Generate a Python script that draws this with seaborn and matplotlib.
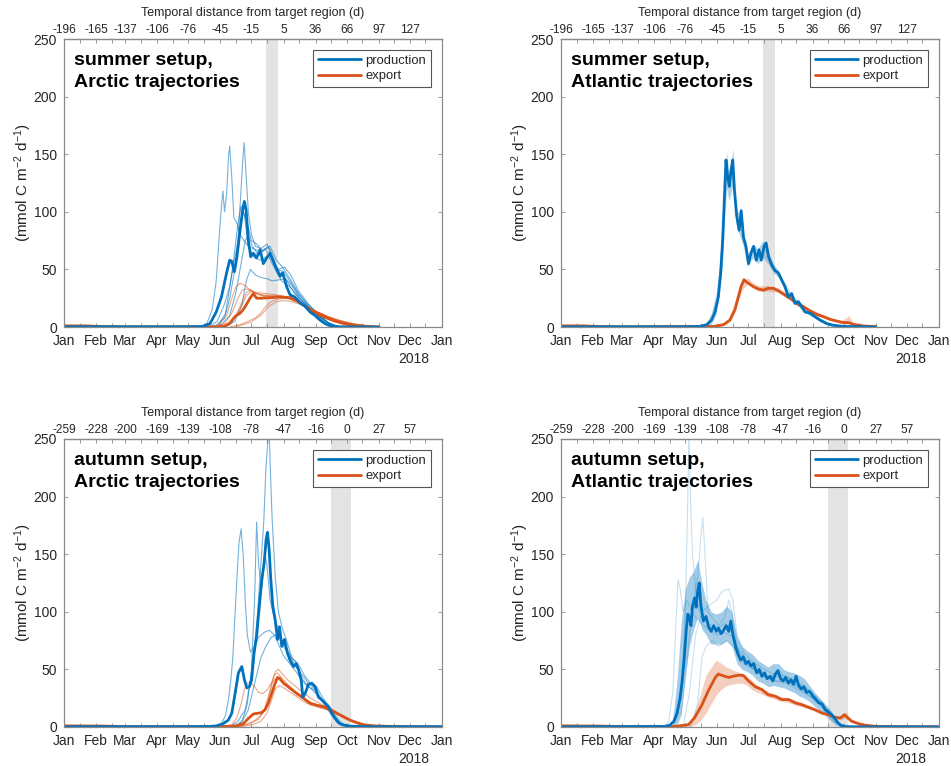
import numpy as np
import pandas as pd
import matplotlib
matplotlib.use("Agg")
import matplotlib.pyplot as plt
import seaborn as sns
from matplotlib.lines import Line2D

# ---------------------------------------------------------------- axes text
MONTHS = ["Jan", "Feb", "Mar", "Apr", "May", "Jun", "Jul", "Aug", "Sep",
          "Oct", "Nov", "Dec", "Jan"]
MONTH_START = [0, 31, 59, 90, 120, 151, 181, 212, 243, 273, 304, 334, 365]
YEAR_LABEL = "2018"
TOP_AXIS_LABEL = "Temporal distance from target region (d)"
Y_LABEL = "(mmol C m$^{-2}$ d$^{-1}$)"
SUMMER_TOP_LABELS = ["-196", "-165", "-137", "-106", "-76", "-45", "-15",
                     "5", "36", "66", "97", "127"]
AUTUMN_TOP_LABELS = ["-259", "-228", "-200", "-169", "-139", "-108", "-78",
                     "-47", "-16", "0", "27", "57"]
SUMMER_TARGET = (195.5, 206.8)   # day-of-year span of the target region
AUTUMN_TARGET = (258.0, 277.0)
SERIES_NAMES = ["production", "export"]

# ------------------------------------------- summer setup, Arctic trajectories
SUM_ARC_PROD = [(0, 0.3), (60, 0.2), (120, 0.2), (134, 0.5), (141, 3), (147, 13),
                (152, 26), (157, 47), (160, 58), (162, 57), (164.5, 48), (167, 61),
                (170, 84), (172.6, 102), (174.2, 109), (175.8, 102), (178, 75),
                (180.3, 61), (182.8, 64), (186, 60), (189.3, 67), (192.5, 55),
                (195.7, 60), (198.9, 64), (202.2, 57), (205.4, 50), (208.6, 44),
                (211.2, 47), (215, 35), (218.3, 28), (223, 26), (227.9, 21),
                (232.8, 18), (237.6, 13), (242.4, 10), (247.2, 6), (252, 3),
                (257, 1), (263, 0.2), (304, 0)]
SUM_ARC_EXP = [(0, 1), (22, 1), (35, 0.4), (60, 0.1), (150, 0.2), (155, 0.5),
               (160, 3), (165, 9), (170, 12), (173, 15), (176.5, 20), (179.6, 25),
               (182.8, 29), (186, 25), (190.8, 25), (198.9, 25.5), (208.6, 26),
               (218.3, 25.5), (224.8, 23), (232.8, 18), (240.9, 13), (250.5, 9),
               (260.2, 5.5), (269.9, 3), (282.8, 1), (295.5, 0.3), (304, 0.1)]
SUM_ARC_PROD_MEMBERS = [
    [(130, 0), (138, 3), (143, 15), (147, 40), (150, 80), (152, 105), (153.5, 118),
     (155, 100), (157, 115), (159, 150), (160, 157), (162, 130), (164, 95),
     (167, 90), (170, 80), (174, 75), (178, 70), (183, 68), (190, 65), (197, 70),
     (203, 55), (210, 45), (215, 40), (222, 30), (230, 22), (240, 14), (250, 6),
     (260, 1.5), (270, 0)],
    [(140, 0), (148, 5), (155, 20), (160, 35), (165, 60), (168, 75), (171, 120),
     (173, 150), (174, 160), (176, 130), (178, 100), (181, 80), (185, 70),
     (190, 68), (196, 72), (200, 65), (206, 50), (212, 48), (218, 40), (225, 30),
     (235, 20), (245, 12), (255, 4), (265, 0.5)],
    [(145, 0), (155, 8), (160, 25), (165, 50), (170, 85), (173, 100), (177, 90),
     (181, 75), (186, 72), (192, 66), (199, 70), (205, 58), (211, 52), (218, 42),
     (226, 30), (236, 18), (246, 10), (256, 3), (266, 0)],
    [(155, 0), (165, 5), (172, 20), (176, 40), (180, 50), (185, 45), (190, 43),
     (196, 42), (201, 40), (208, 41), (214, 42), (220, 36), (228, 25), (238, 15),
     (248, 8), (258, 2), (268, 0)],
    [(150, 0), (160, 10), (166, 30), (170, 50), (175, 75), (178, 80), (182, 70),
     (188, 62), (194, 68), (200, 60), (207, 50), (213, 52), (219, 45), (226, 32),
     (236, 20), (246, 10), (256, 3), (266, 0)],
    [(148, 0), (156, 12), (161, 40), (164, 60), (168, 90), (171, 105), (174, 98),
     (178, 70), (184, 60), (190, 58), (197, 62), (204, 50), (210, 40), (218, 35),
     (228, 24), (238, 16), (248, 8), (258, 2)],
]
SUM_ARC_EXP_MEMBERS = [
    [(140, 0), (150, 2), (157, 10), (162, 25), (166, 35), (170, 38), (175, 36),
     (180, 32), (186, 30), (195, 29), (205, 28), (215, 26), (225, 22), (235, 17),
     (245, 12), (255, 8), (265, 5), (275, 3), (290, 1), (305, 0.2)],
    [(145, 0), (155, 3), (162, 12), (168, 25), (172, 32), (177, 33), (183, 30),
     (190, 28), (200, 27), (210, 27), (220, 25), (230, 20), (240, 15), (250, 10),
     (260, 6), (270, 3.5), (285, 1.2), (305, 0.2)],
    [(150, 0), (160, 3), (166, 10), (172, 22), (176, 30), (180, 32), (186, 29),
     (195, 27), (205, 27), (215, 26), (225, 22), (235, 17), (245, 13), (255, 9),
     (265, 6), (280, 2.5), (300, 0.5)],
    [(160, 0), (170, 2), (178, 5), (185, 8), (190, 12), (195, 18), (200, 22),
     (206, 24), (212, 25), (220, 24), (228, 21), (236, 17), (245, 13), (255, 9),
     (265, 6), (280, 2.5), (300, 0.5)],
    [(150, 0), (162, 5), (170, 15), (176, 27), (181, 31), (188, 28), (196, 26),
     (206, 26), (216, 25), (226, 21), (236, 16), (246, 12), (256, 8), (268, 4),
     (285, 1.3)],
    [(165, 0), (180, 4), (190, 10), (198, 18), (205, 22), (212, 23), (220, 22),
     (230, 19), (240, 15), (250, 11), (260, 7), (272, 4), (290, 1.2)],
]

# ----------------------------------------- summer setup, Atlantic trajectories
SUM_ATL_PROD = [(0, 0.2), (120, 0.2), (134, 0.5), (140.6, 2), (145.4, 6),
                (148.7, 13), (151.9, 26), (154.2, 47), (156.1, 75), (157.7, 110),
                (159.3, 145), (161, 130), (162.5, 122), (164.2, 136), (165.8, 145),
                (167.4, 119), (169.7, 96), (172, 84), (174, 101), (176.2, 78),
                (178.6, 70), (181.1, 55), (183.4, 64), (186, 70), (188.6, 58),
                (191.2, 67), (193.4, 58), (196.1, 70), (198, 73), (200.5, 61),
                (203.4, 54), (206.6, 49), (209.8, 47), (213, 41), (216.3, 35),
                (219.5, 26), (222.7, 29), (226, 20.5), (229.2, 22), (232.4, 17.6),
                (235.7, 13), (240.5, 12), (245.3, 9), (250.1, 6), (256.6, 3),
                (263, 1.5), (272.7, 0.5), (304, 0)]
SUM_ATL_EXP = [(0, 1), (22, 1), (35, 0.4), (60, 0.1), (147, 0.5), (156.8, 2),
               (163.2, 6), (168, 15), (171.2, 26), (173.8, 35), (176.7, 41),
               (179.3, 39), (182.5, 37), (185.8, 35), (190.6, 33), (195.4, 32),
               (200.2, 33.6), (205, 33.6), (209.8, 31.5), (214.7, 28.6), (221.1, 25),
               (227.6, 20.5), (234, 17.6), (240.5, 14), (246.9, 11), (253.4, 9),
               (259.8, 6.7), (266.2, 5.2), (272.7, 3.8), (277.5, 3.8), (282.4, 2.3),
               (292, 0.9), (304, 0.3)]
SUM_ATL_PROD_BAND_DAY = [140, 145, 150, 153, 156, 158, 160, 162, 164, 166, 168, 170,
                         173, 176, 180, 185, 190, 195, 200, 205, 210, 215, 220, 225,
                         230, 240, 250, 260, 270]
SUM_ATL_PROD_BAND_LO = [0, 2, 12, 30, 55, 95, 120, 110, 115, 125, 100, 85, 78, 70,
                        52, 60, 55, 60, 55, 47, 43, 34, 26, 20, 17, 10, 5, 1, 0]
SUM_ATL_PROD_BAND_HI = [3, 12, 30, 55, 95, 135, 152, 135, 140, 155, 125, 100, 100,
                        82, 62, 72, 68, 75, 65, 55, 49, 40, 32, 26, 22, 14, 8, 3, 1]
SUM_ATL_EXP_BAND_DAY = [150, 160, 165, 170, 175, 180, 185, 190, 200, 210, 220, 230,
                        240, 250, 260, 270, 275, 278, 282, 290, 300]
SUM_ATL_EXP_BAND_LO = [0, 2, 9, 20, 32, 37, 34, 31, 31, 30, 24, 18, 13, 9, 5.5, 3,
                       2.5, 3, 1.5, 0.5, 0.1]
SUM_ATL_EXP_BAND_HI = [1, 5, 15, 28, 39, 43, 39, 36, 36, 34, 28, 22, 16, 12, 8, 5,
                       8, 10, 4, 1.5, 0.5]

# ------------------------------------------- autumn setup, Arctic trajectories
AUT_ARC_PROD = [(0, 0.3), (120, 0.3), (141, 0.5), (147.4, 1), (153.9, 3), (158.7, 6),
                (162, 12), (165.2, 29), (168.4, 47), (171.7, 52.5), (174.2, 41),
                (176.5, 34), (179, 35), (181.2, 41), (183.5, 64), (186, 79),
                (188.6, 105), (191, 128), (193.2, 142), (195.2, 163), (196.5, 169),
                (198.1, 154), (199.7, 128), (201.6, 105), (203.9, 93), (206.2, 76),
                (208.1, 87), (210.3, 70), (212.9, 76), (215.8, 64), (218.3, 58),
                (221.6, 52.5), (224.1, 55), (226.4, 50), (229, 41), (230.6, 26),
                (232.8, 29), (236, 37), (239.3, 38), (242.5, 35), (245.7, 26),
                (248.9, 23.5), (252.1, 20.6), (255.4, 17.7), (258.6, 12),
                (261.8, 7.5), (265, 3.8), (269.9, 1.7), (276.2, 0.7), (300, 0.3),
                (365, 0.3)]
AUT_ARC_EXP = [(0, 1), (40, 0.8), (60, 0.2), (150, 0.3), (166.8, 1), (173.3, 3),
               (178.1, 7.5), (182.8, 11.3), (187.6, 12), (190.8, 12.5), (194.1, 15),
               (197.3, 20.6), (200.5, 29), (203.9, 38), (206.2, 43), (208.1, 42.4),
               (212, 38), (218.3, 33.7), (224.8, 29), (231.2, 25), (237.6, 20.6),
               (244, 19), (250.5, 17.7), (256.9, 15.4), (263.4, 12), (269.9, 9),
               (276.2, 6), (282.8, 3.8), (289.2, 2), (298.9, 1), (320, 0.4),
               (340, 0.2), (365, 0.1)]
AUT_ARC_PROD_MEMBERS = [
    [(145, 0), (152, 3), (156, 10), (159, 25), (161, 40), (163, 60), (165, 95),
     (167, 130), (169, 160), (171, 172), (173, 150), (175, 110), (177, 80),
     (180, 65), (184, 70), (188, 78), (193, 82), (198, 84), (203, 80), (207, 72),
     (212, 62), (218, 55), (224, 48), (230, 40), (236, 35), (242, 32), (248, 25),
     (254, 18), (260, 10), (266, 4), (272, 1.5), (280, 0.5)],
    [(160, 0), (168, 5), (175, 15), (180, 40), (184, 70), (187, 100), (190, 140),
     (193, 180), (195, 225), (197, 250), (198, 262), (199, 230), (201, 180),
     (204, 130), (207, 100), (211, 85), (215, 75), (220, 60), (226, 55), (232, 45),
     (238, 38), (244, 35), (250, 25), (256, 18), (262, 10), (268, 3), (275, 1)],
    [(165, 0), (172, 5), (177, 20), (181, 50), (184, 110), (186, 178), (188, 140),
     (191, 120), (194, 150), (196, 140), (199, 110), (203, 95), (207, 85),
     (212, 70), (218, 62), (224, 52), (230, 45), (236, 38), (242, 33), (248, 25),
     (254, 16), (260, 8), (266, 2), (272, 0.5)],
    [(165, 0), (172, 5), (178, 15), (182, 30), (186, 45), (190, 60), (195, 70),
     (200, 78), (205, 80), (210, 75), (215, 68), (220, 60), (225, 55), (230, 42),
     (235, 36), (240, 32), (246, 26), (252, 20), (258, 12), (264, 5), (270, 1.5)],
]
AUT_ARC_EXP_MEMBERS = [
    [(155, 0), (162, 2), (167, 8), (171, 20), (174, 32), (177, 38), (180, 39),
     (184, 35), (188, 30), (192, 29), (196, 32), (200, 38), (204, 42), (208, 41),
     (214, 37), (220, 33), (228, 28), (236, 22), (244, 19), (252, 16), (260, 13),
     (268, 10), (276, 6), (284, 3), (292, 1.5), (300, 0.7)],
    [(165, 0), (175, 2), (185, 6), (192, 12), (197, 25), (201, 40), (204, 48),
     (207, 50), (211, 46), (217, 40), (224, 35), (232, 29), (240, 24), (248, 20),
     (256, 16), (264, 12), (272, 8), (280, 4.5), (290, 2), (300, 0.8)],
    [(168, 0), (180, 3), (188, 7), (194, 15), (199, 30), (203, 45), (206, 47),
     (210, 43), (216, 37), (224, 30), (232, 25), (240, 20), (248, 17), (256, 15),
     (264, 11), (272, 7), (282, 3.5), (295, 1.2)],
    [(170, 0), (182, 2), (190, 5), (196, 12), (200, 22), (204, 33), (208, 36),
     (214, 33), (222, 28), (230, 23), (238, 19), (246, 17), (254, 15), (262, 12),
     (270, 8), (280, 4), (292, 1.5)],
]

# ----------------------------------------- autumn setup, Atlantic trajectories
AUT_ATL_PROD = [(0, 0.2), (100, 0.5), (105, 1.5), (109, 5), (112, 12), (115, 25),
                (117, 40), (119, 60), (121, 85), (122.5, 98), (124, 95), (125.5, 88),
                (127, 105), (129, 112), (130.5, 104), (132, 118), (133.5, 125),
                (135, 106), (137.5, 92), (140, 96), (142.5, 87), (145, 83),
                (147.5, 88), (150, 83), (152, 86), (154.5, 81), (157, 84),
                (159.5, 88), (162, 83), (164, 92), (166, 80), (168.5, 70), (171, 63),
                (173.5, 58), (176, 61), (178.5, 55), (181, 57), (183.5, 53),
                (186, 55), (189, 47), (191.5, 50), (194, 44), (196.5, 47), (199, 42),
                (202, 44), (204.5, 40), (207, 46), (209.5, 49), (212, 42),
                (214.5, 40), (217, 43), (219.5, 38), (222, 41), (224.5, 37),
                (227, 44), (229.5, 36), (232, 33), (234.5, 35), (237, 30), (240, 31),
                (243, 27), (246, 24), (249, 21), (252, 20), (255, 15), (258, 13),
                (261, 11), (264, 8), (267, 4), (270, 1.5), (274, 0.5), (280, 0.2),
                (365, 0.1)]
AUT_ATL_EXP = [(0, 1), (40, 0.8), (60, 0.2), (100, 0.3), (110, 0.5), (123, 2),
               (129, 8), (136, 19), (142, 31), (149, 43), (152, 46), (158, 44),
               (162, 43), (166, 44), (171.5, 45), (176, 44.7), (181, 40),
               (187.5, 35), (194, 32.5), (200, 28), (207, 26.7), (213, 23.8),
               (220, 23.8), (226, 21), (232.5, 19.4), (239, 17), (245, 15),
               (252, 12), (258, 10.7), (264.5, 8.4), (269.5, 7.8), (271.5, 9),
               (273.6, 10.7), (277, 7.8), (280.7, 5), (287, 3), (294, 1.5),
               (303.6, 0.6), (330, 0.3), (365, 0.2)]
AUT_ATL_PROD_MEMBERS = [
    [(108, 0), (113, 10), (117, 40), (120, 100), (122, 180), (123.5, 255),
     (125, 200), (127, 150), (129, 130), (131, 110), (134, 100), (138, 95),
     (143, 90), (150, 85), (158, 90), (165, 85), (172, 65), (180, 55), (190, 48),
     (200, 42), (210, 44), (220, 40), (230, 35), (240, 30), (250, 20), (260, 12),
     (268, 4), (275, 0.5)],
    [(112, 0), (116, 10), (120, 40), (124, 80), (128, 110), (132, 130), (135, 165),
     (137, 182), (139, 150), (142, 100), (146, 95), (152, 88), (158, 95),
     (162, 110), (165, 100), (170, 70), (178, 60), (188, 50), (200, 44), (212, 46),
     (222, 42), (232, 36), (242, 30), (252, 22), (262, 10), (270, 2)],
    [(100, 0), (104, 5), (108, 30), (111, 90), (113, 128), (115, 120), (118, 100),
     (122, 110), (126, 100), (130, 95), (136, 90), (142, 85), (150, 80), (158, 82),
     (166, 78), (174, 60), (184, 52), (194, 45), (206, 40), (218, 38), (228, 33),
     (238, 28), (248, 22), (258, 14), (266, 5), (272, 1)],
    [(118, 0), (124, 30), (130, 80), (136, 100), (142, 105), (150, 110), (156, 118),
     (162, 120), (166, 110), (170, 80), (176, 65), (186, 56), (196, 50), (206, 46),
     (216, 44), (226, 40), (236, 35), (246, 26), (256, 16), (264, 7), (270, 1.5)],
    [(125, 0), (132, 20), (136, 60), (140, 70), (146, 75), (152, 70), (160, 75),
     (168, 68), (176, 55), (186, 50), (196, 44), (206, 40), (216, 40), (226, 36),
     (236, 30), (246, 22), (256, 14), (264, 6), (270, 1)],
]
AUT_ATL_PROD_BAND_DAY = [108, 112, 116, 120, 124, 128, 132, 136, 140, 145, 150, 155,
                         160, 165, 170, 175, 180, 185, 190, 195, 200, 205, 210, 215,
                         220, 225, 230, 235, 240, 245, 250, 255, 260, 265, 270, 275]
AUT_ATL_PROD_BAND_LO = [0, 3, 12, 45, 70, 85, 95, 85, 80, 72, 72, 72, 75, 70, 55, 50,
                        48, 45, 40, 38, 35, 36, 35, 34, 32, 30, 27, 25, 22, 18, 14,
                        10, 6, 2, 0.5, 0]
AUT_ATL_PROD_BAND_HI = [8, 40, 90, 120, 130, 135, 145, 125, 110, 100, 98, 100, 105,
                        100, 78, 70, 66, 63, 58, 55, 52, 55, 55, 50, 48, 47, 45, 42,
                        36, 30, 25, 20, 15, 8, 3, 1]
AUT_ATL_EXP_BAND_DAY = [120, 125, 130, 135, 140, 145, 150, 155, 160, 165, 170, 175,
                        180, 185, 190, 195, 200, 210, 220, 230, 240, 250, 260, 270,
                        275, 280, 290, 300]
AUT_ATL_EXP_BAND_LO = [0, 0.5, 2, 6, 12, 20, 28, 33, 36, 37, 38, 38, 36, 32, 30, 28,
                       26, 23, 21, 18, 16, 13, 9, 6, 8, 4, 1.5, 0.3]
AUT_ATL_EXP_BAND_HI = [1, 5, 15, 30, 45, 52, 58, 55, 52, 50, 48, 47, 44, 40, 36, 33,
                       31, 27, 25, 22, 19, 15, 11, 9, 13, 7, 3, 1]

# ------------------------------------------------------------------- styling
BLUE = "#0072BD"
ORANGE = "#D95319"
GREY_PATCH = "#E3E3E3"
INK = "#262626"
FRAME = "#8a8a8a"

sns.set_theme(style="white")
plt.rcParams["font.family"] = ["Liberation Sans", "DejaVu Sans"]
plt.rcParams["mathtext.fontset"] = "custom"
plt.rcParams["mathtext.rm"] = "Liberation Sans"
plt.rcParams["mathtext.default"] = "regular"


def pairs_frame(pairs):
    return pd.DataFrame(pairs, columns=["day", "value"])


def members_frame(members):
    rows = [(i, d, v) for i, pts in enumerate(members) for d, v in pts]
    return pd.DataFrame(rows, columns=["member", "day", "value"])


def draw_panel(ax, title, top_labels, target, prod, exp,
               prod_members=None, exp_members=None,
               prod_band=None, exp_band=None, member_alpha=0.55, band_alpha=0.3):
    ax.axvspan(target[0], target[1], color=GREY_PATCH, lw=0, zorder=0)

    if prod_band is not None:
        ax.fill_between(prod_band[0], prod_band[1], prod_band[2], color=BLUE,
                        alpha=band_alpha, lw=0, zorder=1)
    if exp_band is not None:
        ax.fill_between(exp_band[0], exp_band[1], exp_band[2], color=ORANGE,
                        alpha=0.28, lw=0, zorder=1)
    if prod_members is not None:
        sns.lineplot(data=members_frame(prod_members), x="day", y="value",
                     units="member", estimator=None, sort=False, color=BLUE,
                     alpha=member_alpha, linewidth=0.8, legend=False, ax=ax)
    if exp_members is not None:
        sns.lineplot(data=members_frame(exp_members), x="day", y="value",
                     units="member", estimator=None, sort=False, color=ORANGE,
                     alpha=0.5, linewidth=0.8, legend=False, ax=ax)

    sns.lineplot(data=pairs_frame(exp), x="day", y="value", estimator=None,
                 sort=False, color=ORANGE, linewidth=2.0, legend=False, ax=ax)
    sns.lineplot(data=pairs_frame(prod), x="day", y="value", estimator=None,
                 sort=False, color=BLUE, linewidth=2.0, legend=False, ax=ax)

    ax.set_xlim(MONTH_START[0], MONTH_START[-1])
    ax.set_ylim(0, 250)
    ax.set_xticks(MONTH_START)
    ax.set_xticklabels(MONTHS)
    ax.set_xticks([m + 15 for m in MONTH_START[:-1]], minor=True)
    ax.set_yticks(np.arange(0, 251, 50))
    ax.tick_params(which="both", direction="in", length=3.2, width=0.6,
                   top=True, right=True, bottom=True, left=True,
                   color=FRAME, labelcolor=INK, labelsize=10, pad=5)
    ax.set_xlabel("")
    ax.set_ylabel(Y_LABEL, fontsize=11, color=INK, labelpad=0)
    for sp in ax.spines.values():
        sp.set_color(FRAME)
        sp.set_linewidth(0.9)

    sec = ax.secondary_xaxis("top")
    sec.set_xticks(MONTH_START[:-1])
    sec.set_xticklabels(top_labels)
    sec.tick_params(direction="in", length=0, labelsize=8.6, labelcolor=INK, pad=2)
    sec.spines["top"].set_linewidth(0.9)
    sec.spines["top"].set_color(FRAME)
    sec.set_xlabel(TOP_AXIS_LABEL, fontsize=9, color=INK, labelpad=6)

    ax.text(0.967, -0.112, YEAR_LABEL, transform=ax.transAxes, ha="right",
            va="center", fontsize=10, color=INK)
    ax.text(0.027, 0.956, title, transform=ax.transAxes, ha="left", va="top",
            fontsize=14, fontweight="bold", color="black", linespacing=1.38)

    handles = [Line2D([], [], color=BLUE, lw=2.0),
               Line2D([], [], color=ORANGE, lw=2.0)]
    leg = ax.legend(handles, SERIES_NAMES, loc="upper right", fontsize=9.4,
                    frameon=True, fancybox=False, framealpha=1,
                    edgecolor="#555555", borderaxespad=0.85, handlelength=3.3,
                    handletextpad=0.35, borderpad=0.35, labelspacing=0.25)
    leg.get_frame().set_linewidth(0.8)


fig = plt.figure(figsize=(9.51, 7.66), dpi=100)
W, H = 951.0, 766.0
left_x, right_x, aw = 64 / W, 561 / W, 378 / W
top_y, bot_y = 1 - 327 / H, 1 - 727 / H
ah = 288 / H

ax_a = fig.add_axes([left_x, top_y, aw, ah])
ax_b = fig.add_axes([right_x, top_y, aw, ah])
ax_c = fig.add_axes([left_x, bot_y, aw, ah])
ax_d = fig.add_axes([right_x, bot_y, aw, ah])

draw_panel(ax_a, "summer setup,\nArctic trajectories", SUMMER_TOP_LABELS,
           SUMMER_TARGET, SUM_ARC_PROD, SUM_ARC_EXP,
           prod_members=SUM_ARC_PROD_MEMBERS, exp_members=SUM_ARC_EXP_MEMBERS)
draw_panel(ax_b, "summer setup,\nAtlantic trajectories", SUMMER_TOP_LABELS,
           SUMMER_TARGET, SUM_ATL_PROD, SUM_ATL_EXP,
           prod_band=(SUM_ATL_PROD_BAND_DAY, SUM_ATL_PROD_BAND_LO, SUM_ATL_PROD_BAND_HI),
           exp_band=(SUM_ATL_EXP_BAND_DAY, SUM_ATL_EXP_BAND_LO, SUM_ATL_EXP_BAND_HI))
draw_panel(ax_c, "autumn setup,\nArctic trajectories", AUTUMN_TOP_LABELS,
           AUTUMN_TARGET, AUT_ARC_PROD, AUT_ARC_EXP,
           prod_members=AUT_ARC_PROD_MEMBERS, exp_members=AUT_ARC_EXP_MEMBERS)
draw_panel(ax_d, "autumn setup,\nAtlantic trajectories", AUTUMN_TOP_LABELS,
           AUTUMN_TARGET, AUT_ATL_PROD, AUT_ATL_EXP,
           prod_members=AUT_ATL_PROD_MEMBERS, member_alpha=0.22, band_alpha=0.36,
           prod_band=(AUT_ATL_PROD_BAND_DAY, AUT_ATL_PROD_BAND_LO, AUT_ATL_PROD_BAND_HI),
           exp_band=(AUT_ATL_EXP_BAND_DAY, AUT_ATL_EXP_BAND_LO, AUT_ATL_EXP_BAND_HI))

fig.savefig("out.png", dpi=100)
